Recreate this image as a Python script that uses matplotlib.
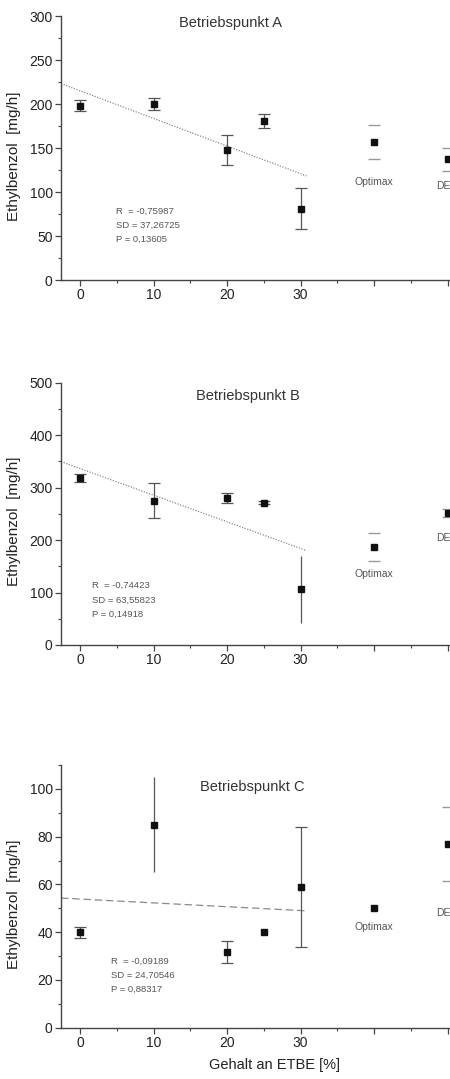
import numpy as np
import matplotlib.pyplot as plt
from matplotlib.ticker import MultipleLocator

plt.rcParams['font.family'] = ['Liberation Sans', 'DejaVu Sans']

# ETBE content of the blends [%]
etbe = [0, 10, 20, 25, 30]
# reference fuels, placed at the right end of the axis
ref_names = ["Optimax", "DE"]
ref_pos = [40, 50]

# Betriebspunkt A
a_vals = [198, 200, 148, 181, 81]
a_err = [6.5, 7, 17, 8, 23]
a_ref = [157, 137]
a_ref_err = [19.5, 13]
a_stats = ["R  = -0,75987", "SD = 37,26725", "P = 0,13605"]

# Betriebspunkt B
b_vals = [318, 275, 280, 271, 106]
b_err = [8, 33, 9, 3, 64]
b_ref = [187, 252]
b_ref_err = [26, 8]
b_stats = ["R  = -0,74423", "SD = 63,55823", "P = 0,14918"]

# Betriebspunkt C
c_vals = [40, 85, 31.7, 40, 59]
c_err = [2.3, 20, 4.8, 0, 25]
c_ref = [50, 77]
c_ref_err = [0, 15.5]
c_stats = ["R  = -0,09189", "SD = 24,70546", "P = 0,88317"]

panels = [
    dict(title="Betriebspunkt A", vals=a_vals, err=a_err, ref=a_ref, ref_err=a_ref_err,
         stats=a_stats, ymax=300, major=50, caps=[1, 1, 1, 1, 1], ls=(0, (1, 1.2)),
         rect=(61, 16, 280), title_xy=(0.434, 0.975), stats_xy=(0.141, 0.207),
         opt_y=111, de_y=107),
    dict(title="Betriebspunkt B", vals=b_vals, err=b_err, ref=b_ref, ref_err=b_ref_err,
         stats=b_stats, ymax=500, major=100, caps=[1, 1, 1, 1, 0], ls=(0, (1, 1.2)),
         rect=(61, 382.7, 645), title_xy=(0.48, 0.949), stats_xy=(0.08, 0.172),
         opt_y=135, de_y=204),
    dict(title="Betriebspunkt C", vals=c_vals, err=c_err, ref=c_ref, ref_err=c_ref_err,
         stats=c_stats, ymax=110, major=20, caps=[1, 0, 1, 1, 1], ls=(0, (6, 3)),
         rect=(61, 765, 1027.7), title_xy=(0.49, 0.916), stats_xy=(0.128, 0.2),
         opt_y=42.2, de_y=48),
]

W, H = 450, 1079
fig = plt.figure(figsize=(W / 100, H / 100), dpi=100)
xlim = (-2.6, 50.4)
fit_end = 30.8
px_per_unit = 7.35

spine_col = "#444444"
for p in panels:
    left, top, bottom = p["rect"]
    width = (xlim[1] - xlim[0]) * px_per_unit
    ax = fig.add_axes([left / W, 1 - bottom / H, width / W, (bottom - top) / H])
    ax.set_xlim(*xlim)
    ax.set_ylim(0, p["ymax"])

    # linear fit over the ETBE blends
    k, d = np.polyfit(etbe, p["vals"], 1)
    xf = np.array([xlim[0], fit_end])
    ax.plot(xf, k * xf + d, color="#8a8a8a", lw=0.9, linestyle=p["ls"], zorder=1)

    for x, y, e, c in zip(etbe, p["vals"], p["err"], p["caps"]):
        ax.errorbar(x, y, yerr=e, fmt="s", color="#111111", ecolor="#555555",
                    ms=4.2, elinewidth=0.9, capsize=4 if (c and e > 0) else 0,
                    capthick=0.9, zorder=3)

    # reference fuels: caps only
    for x, y, e in zip(ref_pos, p["ref"], p["ref_err"]):
        ax.errorbar(x, y, yerr=e, fmt="s", color="#111111", ecolor="#9a9a9a",
                    ms=4.2, elinewidth=0, capsize=4.2 if e > 0 else 0,
                    capthick=1.0, zorder=3)

    ax.text(ref_pos[0], p["opt_y"], ref_names[0], ha="center", va="center",
            fontsize=7.5, color="#555555")
    ax.text(48.4, p["de_y"], ref_names[1], ha="left", va="center",
            fontsize=7.5, color="#555555", clip_on=False)

    ax.text(*p["title_xy"], p["title"], transform=ax.transAxes, ha="center",
            va="center", fontsize=10.5, color="#333333")
    ax.text(*p["stats_xy"], "\n".join(p["stats"]), transform=ax.transAxes,
            ha="left", va="center", fontsize=6.8, color="#555555", linespacing=1.75)

    for side in ("top", "right"):
        ax.spines[side].set_visible(False)
    for side in ("left", "bottom"):
        ax.spines[side].set_color(spine_col)
        ax.spines[side].set_linewidth(1.0)

    ax.set_xticks([0, 10, 20, 30, 40, 50])
    ax.set_xticklabels(["0", "10", "20", "30", "", ""])
    ax.xaxis.set_minor_locator(MultipleLocator(5))
    ax.yaxis.set_major_locator(MultipleLocator(p["major"]))
    ax.yaxis.set_minor_locator(MultipleLocator(p["major"] / 2))
    ax.tick_params(which="major", direction="out", length=4, width=0.9,
                   color=spine_col, labelsize=10, labelcolor="#222222", pad=2)
    ax.tick_params(which="minor", direction="out", length=2.5, width=0.8, color=spine_col)

    ax.set_ylabel("Ethylbenzol  [mg/h]", fontsize=11, color="#222222")
    ax.yaxis.set_label_coords(-0.103, 0.47)

ax.set_xlabel("Gehalt an ETBE [%]", fontsize=10.5, color="#222222")
ax.xaxis.set_label_coords(0.549, -0.115)

fig.savefig("out.png", dpi=100)
